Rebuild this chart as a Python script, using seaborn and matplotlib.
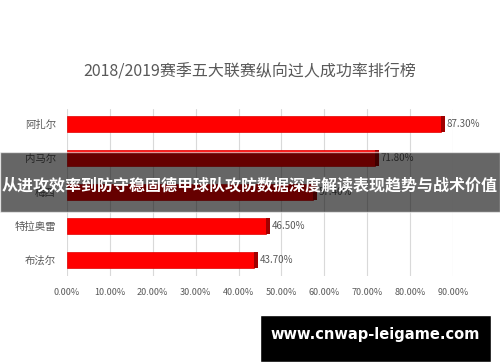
import matplotlib
matplotlib.use("Agg")
import matplotlib.pyplot as plt
import seaborn as sns
import pandas as pd
from matplotlib.patches import Rectangle

players = ["阿扎尔", "内马尔", "梅西", "特拉奥雷", "布法尔"]
success_rate = [87.3, 71.8, 57.4, 46.5, 43.7]
x_ticks = [0, 10, 20, 30, 40, 50, 60, 70, 80, 90]

title = "2018/2019赛季五大联赛纵向过人成功率排行榜"
banner = "从进攻效率到防守稳固德甲球队攻防数据深度解读表现趋势与战术价值"
watermark = "www.cnwap-leigame.com"

sns.set_theme(style="white")
plt.rcParams["font.family"] = ["Noto Sans CJK SC", "DejaVu Sans"]

df = pd.DataFrame({"player": players, "rate": success_rate})

fig = plt.figure(figsize=(5, 3.62), dpi=100)
ax = fig.add_axes([0.134, 0.238, 0.772, 0.462])

sns.barplot(data=df, y="player", x="rate", orient="h", color="#ff0000",
            saturation=1, width=0.48, edgecolor="#e00000", linewidth=0.5, ax=ax)
# darker right face to mimic the 3D look
ax.barh(range(len(players)), [0.9] * len(players), left=success_rate,
        height=0.48, color="#a00000", linewidth=0)

for i, v in enumerate(success_rate):
    ax.text(v + 1.2, i, f"{v:.2f}%", va="center", ha="left",
            fontsize=7, color="#595959")

ax.set_xlim(0, 90)
ax.set_xticks(x_ticks)
ax.set_xticklabels([f"{t:.2f}%" for t in x_ticks], fontsize=6.5, color="#595959")
ax.tick_params(axis="y", labelsize=7.5, labelcolor="#595959", length=0, pad=8)
ax.tick_params(axis="x", length=0, pad=9)
ax.set_xlabel("")
ax.set_ylabel("")
ax.grid(axis="x", color="#d9d9d9", linewidth=0.8)
ax.set_axisbelow(True)
for s in ax.spines.values():
    s.set_visible(False)

fig.text(0.5, 0.80, title, ha="center", va="center", fontsize=11.5, color="#595959")

# semi-transparent banner across the chart
fig.patches.append(Rectangle((0, 1 - 212 / 362), 1, 60 / 362, transform=fig.transFigure,
                             facecolor="black", alpha=0.6, zorder=5))
fig.text(0.5, 1 - 185 / 362, banner, ha="center", va="center", fontsize=11.5,
         fontweight="bold", color="white", zorder=6)

# watermark box
fig.patches.append(Rectangle((260 / 500, 0), 231 / 500, 47 / 362, transform=fig.transFigure,
                             facecolor="black", zorder=5))
fig.text(375 / 500, 1 - 335 / 362, watermark, ha="center", va="center", fontsize=10.5,
         fontweight="bold", color="white", zorder=6, family=["DejaVu Sans"])

fig.savefig("out.png", dpi=100)
